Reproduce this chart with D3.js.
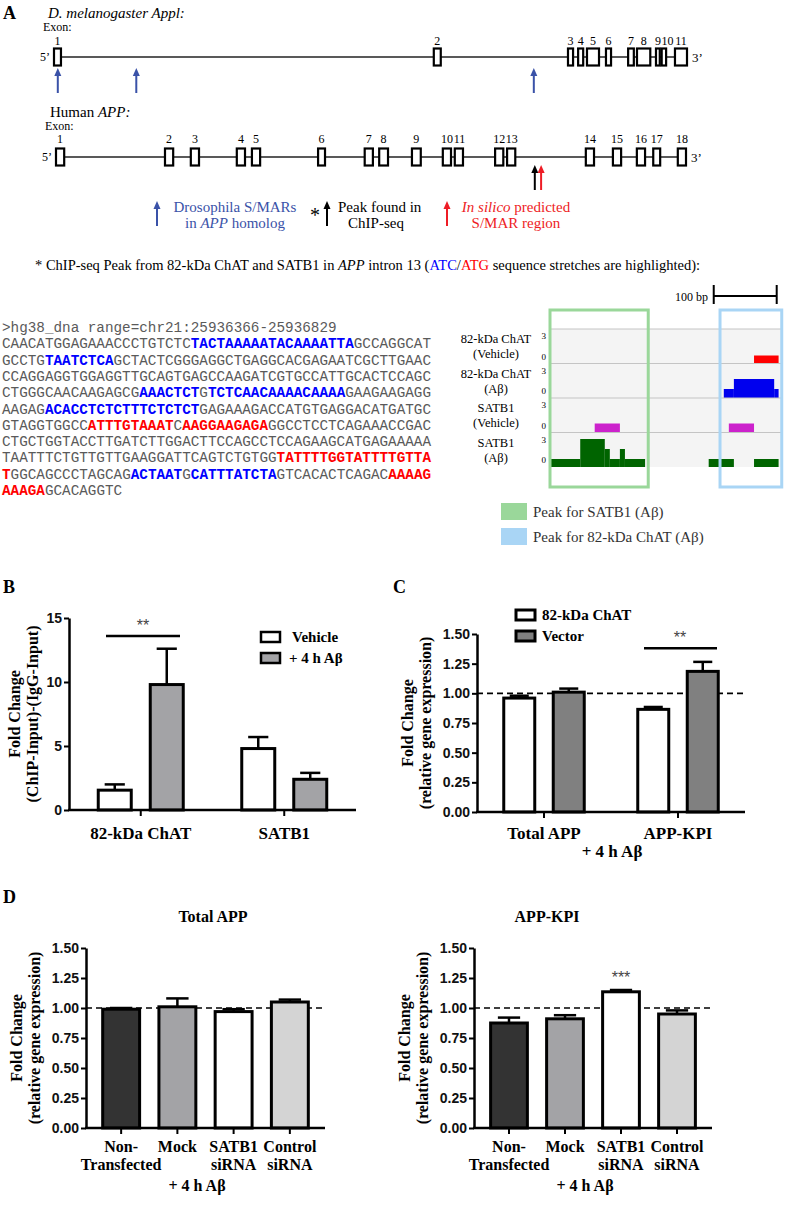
<!DOCTYPE html>
<html><head><meta charset="utf-8">
<script src="https://cdn.jsdelivr.net/npm/d3@7"></script>
<style>body{margin:0;background:#fff}svg{display:block}</style>
</head><body><script>
// ---------------- DATA ----------------
// Panel A gene models (relative position along gene, 0-100)
const drosExonLabels = ["1","2","3","4","5","6","7","8","9","10","11"];
const drosExonStart  = [0, 60.0, 81.2, 82.8, 84.2, 87.2, 90.7, 92.1, 95.1, 96.0, 98.1];
const drosExonEnd    = [1.1, 61.1, 82.0, 83.6, 86.1, 88.0, 91.6, 94.2, 95.7, 96.7, 100];
const drosMarArrows  = [0.6, 13.0, 75.8];
const humanExonLabels = ["1","2","3","4","5","6","7","8","9","10","11","12","13","14","15","16","17","18"];
const humanExonStart  = [0, 17.3, 21.4, 28.7, 31.1, 41.6, 49.0, 51.3, 56.5, 61.4, 63.3, 69.7, 71.6, 84.1, 88.4, 92.2, 94.8, 98.7];
const humanExonEnd    = [1.3, 18.6, 22.7, 30.0, 32.4, 42.7, 50.3, 52.7, 57.9, 62.7, 64.6, 71.0, 72.9, 85.4, 89.7, 93.5, 95.9, 100];
const chipSeqPeakPos  = 76.0;
const inSilicoPos     = 77.0;

// DNA sequence (n = plain, b = ATC stretch, r = ATG stretch)
const seqHeader = ">hg38_dna range=chr21:25936366-25936829";
const seqRows = [
 [["n","CAACATGGAGAAACCCTGTCTC"],["b","TACTAAAAATACAAAATTA"],["n","GCCAGGCAT"]],
 [["n","GCCTG"],["b","TAATCTCA"],["n","GCTACTCGGGAGGCTGAGGCACGAGAATCGCTTGAAC"]],
 [["n","CCAGGAGGTGGAGGTTGCAGTGAGCCAAGATCGTGCCATTGCACTCCAGC"]],
 [["n","CTGGGCAACAAGAGCG"],["b","AAACTCT"],["n","G"],["b","TCTCAACAAAACAAAA"],["n","GAAGAAGAGG"]],
 [["n","AAGAG"],["b","ACACCTCTCTTTCTCTCT"],["n","GAGAAAGACCATGTGAGGACATGATGC"]],
 [["n","GTAGGTGGCC"],["r","ATTTGTAAAT"],["n","C"],["r","AAGGAAGAGA"],["n","GGCCTCCTCAGAAACCGAC"]],
 [["n","CTGCTGGTACCTTGATCTTGGACTTCCAGCCTCCAGAAGCATGAGAAAAA"]],
 [["n","TAATTTCTGTTGTTGAAGGATTCAGTCTGTGG"],["r","TATTTTGGTATTTTGTTA"]],
 [["r","T"],["n","GGCAGCCCTAGCAG"],["b","ACTAAT"],["n","G"],["b","CATTTATCTA"],["n","GTCACACTCAGAC"],["r","AAAAG"]],
 [["r","AAAGA"],["n","GCACAGGTC"]]
];

// ChIP-seq tracks (bp offsets, signal 0-3)
const trackNames = [["82-kDa ChAT","(Vehicle)"],["82-kDa ChAT","(Aβ)"],["SATB1","(Vehicle)"],["SATB1","(Aβ)"]];
const trackColors = ["#ff0000","#0000ee","#cc22cc","#006400"];
const trackSegments = [
  [[324,363,0.8]],
  [[276,292,0.9],[292,356,1.9],[356,363,0.9]],
  [[71,111,0.9],[284,324,0.9]],
  [[0,48,0.8],[48,87,2.8],[87,95,1.8],[95,111,0.8],[111,119,1.8],[119,151,0.8],[252,292,0.8],[324,363,0.8]]
];
const satb1PeakBp = [0, 156];
const chatPeakBp  = [270, 368];
const peakLegend  = ["Peak for SATB1 (Aβ)", "Peak for 82-kDa ChAT (Aβ)"];

// Panel B
const bCats = ["82-kDa ChAT","SATB1"];
const bSeries = ["Vehicle","+ 4 h Aβ"];
const bVehicle = [1.55, 4.8], bVehicleErr = [2.0, 5.7];
const bAbeta   = [9.8, 2.4],  bAbetaErr   = [12.6, 2.9];
const bTicks = [0,5,10,15];

// Panel C
const cCats = ["Total APP","APP-KPI"];
const cSeries = ["82-kDa ChAT","Vector"];
const cChat   = [0.96, 0.865], cChatErr   = [0.98, 0.885];
const cVector = [1.01, 1.185], cVectorErr = [1.04, 1.265];
const relTicks = [0,0.25,0.5,0.75,1.0,1.25,1.5];

// Panel D
const dCats = [["Non-","Transfected"],["Mock"],["SATB1","siRNA"],["Control","siRNA"]];
const dTotal = [0.99, 1.01, 0.97, 1.05], dTotalErr = [1.0, 1.08, 0.99, 1.07];
const dKpi   = [0.875, 0.91, 1.135, 0.95], dKpiErr = [0.92, 0.94, 1.15, 0.98];
const dFills = ["#333333","#a3a3a6","#ffffff","#d4d4d4"];

// ---------------- DRAW ----------------
const W=787,H=1209;
const SERIF="'Liberation Serif','Times New Roman',serif";
const SANS="'Liberation Sans',Arial,sans-serif";
const MONO="'Liberation Mono','Courier New',monospace";
const svg=d3.select("body").append("svg").attr("width",W).attr("height",H);
svg.append("rect").attr("width",W).attr("height",H).attr("fill","#fff");

function T(x,y,s,o={}){
  const t=svg.append("text").attr("x",x).attr("y",y).text(s)
    .attr("font-family",o.ff||SERIF).attr("font-size",o.fs||14)
    .attr("fill",o.fill||"#000").attr("text-anchor",o.anchor||"start");
  if(o.bold) t.attr("font-weight","bold");
  if(o.italic) t.attr("font-style","italic");
  if(o.rotate!=null) t.attr("transform",`rotate(${o.rotate},${x},${y})`);
  return t;
}
function arrow(x,yb,yt,color){
  svg.append("line").attr("x1",x).attr("x2",x).attr("y1",yb).attr("y2",yt+6)
    .attr("stroke",color).attr("stroke-width",2);
  svg.append("path").attr("d",`M${x-3.5},${yt+8}L${x},${yt}L${x+3.5},${yt+8}Z`).attr("fill",color);
}

// Panel letters
T(3,19,"A",{fs:18,bold:true});
T(3,593,"B",{fs:18,bold:true});
T(393,593,"C",{fs:18,bold:true});
T(3,903,"D",{fs:18,bold:true});

// Gene models
function gene(y, starts, ends, labels, xr, labY){
  const x=d3.scaleLinear().domain([0,100]).range(xr);
  svg.append("line").attr("x1",x(0)).attr("x2",x(100)).attr("y1",y).attr("y2",y)
    .attr("stroke","#222").attr("stroke-width",1.3);
  // label placement with simple collision avoidance
  const fs=12, cw=fs*0.5;
  let prevRight=-1e9;
  starts.forEach((s,i)=>{
    svg.append("rect").attr("x",x(s)).attr("y",y-8.5).attr("width",x(ends[i])-x(s)).attr("height",17)
      .attr("fill","#fff").attr("stroke","#000").attr("stroke-width",2.2);
    const w=labels[i].length*cw;
    let cx=(x(s)+x(ends[i]))/2;
    if(cx-w/2<prevRight+0.5) cx=prevRight+0.5+w/2;
    prevRight=cx+w/2;
    T(cx,labY,labels[i],{fs,anchor:"middle"});
  });
  T(x(0)-4,y+4,"5’",{fs:12,anchor:"end"});
  T(x(100)+5,y+5,"3’",{fs:13});
  return x;
}
T(48,18,"D. melanogaster Appl:",{fs:15,italic:true});
T(43,31,"Exon:",{fs:12});
const xd=gene(57,drosExonStart,drosExonEnd,drosExonLabels,[54,687],45);
drosMarArrows.forEach(p=>arrow(xd(p),93,68,"#3a52a8"));

T(50,117,"Human ",{fs:15}).append("tspan").attr("font-style","italic").text("APP:");
T(45,130,"Exon:",{fs:12});
const xh=gene(157,humanExonStart,humanExonEnd,humanExonLabels,[56,686],143);
arrow(xh(chipSeqPeakPos),190,165,"#000");
arrow(xh(inSilicoPos),190,165,"#ee1c25");

// legend of arrows
arrow(157,226,201,"#3a52a8");
T(235,212,"Drosophila S/MARs",{fs:15,anchor:"middle",fill:"#3a52a8"});
const l2=T(235,228,"in ",{fs:15,anchor:"middle",fill:"#3a52a8"});
l2.append("tspan").attr("font-style","italic").text("APP");
l2.append("tspan").text(" homolog");
T(315,222,"*",{fs:20,anchor:"middle"});
arrow(327,226,201,"#000");
T(338,212,"Peak found in",{fs:15});
T(376,228,"ChIP-seq",{fs:15,anchor:"middle"});
arrow(447,226,201,"#ee1c25");
const l3=T(516,212,"",{fs:15,anchor:"middle",fill:"#ee1c25"});
l3.append("tspan").attr("font-style","italic").text("In silico");
l3.append("tspan").text(" predicted");
T(516,228,"S/MAR region",{fs:15,anchor:"middle",fill:"#ee1c25"});

// sentence
const sn=T(35,270,"* ChIP-seq Peak from 82-kDa ChAT and SATB1 in ",{fs:14.5});
sn.append("tspan").attr("font-style","italic").text("APP");
sn.append("tspan").text(" intron 13 (");
sn.append("tspan").attr("fill","#0000ff").text("ATC");
sn.append("tspan").text("/");
sn.append("tspan").attr("fill","#ff0000").text("ATG");
sn.append("tspan").text(" sequence stretches are highlighted):");

// sequence
const seqY=d3.scaleLinear().domain([0,10]).range([332,495]);
T(2,seqY(0),seqHeader,{ff:MONO,fs:14.3,fill:"#5a5a5a"}).attr("xml:space","preserve");
seqRows.forEach((row,i)=>{
  const t=T(2,seqY(i+1),"",{ff:MONO,fs:14.3,fill:"#5a5a5a"});
  row.forEach(([k,s])=>{
    const sp=t.append("tspan").text(s);
    if(k==="b") sp.attr("fill","#0000ff").attr("font-weight","bold");
    if(k==="r") sp.attr("fill","#ff0000").attr("font-weight","bold");
  });
});

// ChIP tracks
const tx=d3.scaleLinear().domain([0,370]).range([550,783]);
const trackTop=[329,363.5,398,432.5], trackH=34.5;
svg.append("rect").attr("x",tx(0)).attr("y",329).attr("width",tx(370)-tx(0)).attr("height",trackH*4)
  .attr("fill","#f4f4f4");
trackTop.forEach((t0,i)=>{
  svg.append("line").attr("x1",tx(0)).attr("x2",tx(370)).attr("y1",t0).attr("y2",t0)
    .attr("stroke","#c4c4c4").attr("stroke-width",1);
  const yb=t0+trackH;
  const ty=d3.scaleLinear().domain([0,3]).range([yb,yb-30]);
  T(546,t0+10,"3",{fs:9,anchor:"end"});
  T(546,yb-4,"0",{fs:9,anchor:"end"});
  T(496,t0+14,trackNames[i][0],{fs:12.5,anchor:"middle"});
  T(496,t0+29,trackNames[i][1],{fs:12.5,anchor:"middle"});
  trackSegments[i].forEach(([a,b,v])=>{
    svg.append("rect").attr("x",tx(a)).attr("y",ty(v)).attr("width",tx(b)-tx(a)).attr("height",ty(0)-ty(v))
      .attr("fill",trackColors[i]);
  });
});
// peak boxes
svg.append("rect").attr("x",tx(satb1PeakBp[0])).attr("y",310).attr("width",tx(satb1PeakBp[1])-tx(satb1PeakBp[0]))
  .attr("height",177).attr("fill","none").attr("stroke","#9ad79a").attr("stroke-width",3);
svg.append("rect").attr("x",tx(chatPeakBp[0])).attr("y",310).attr("width",tx(chatPeakBp[1])-tx(chatPeakBp[0]))
  .attr("height",177).attr("fill","none").attr("stroke","#a9d5f5").attr("stroke-width",3);
// scale bar
const sb0=tx(260), sb1=tx(360);
svg.append("line").attr("x1",sb0).attr("x2",sb1).attr("y1",296).attr("y2",296).attr("stroke","#000").attr("stroke-width",2);
[sb0,sb1].forEach(x=>svg.append("line").attr("x1",x).attr("x2",x).attr("y1",285).attr("y2",304).attr("stroke","#000").attr("stroke-width",2));
T(708,301,"100 bp",{fs:12,anchor:"end"});
// peak legend
["#9ad79a","#a9d5f5"].forEach((c,i)=>{
  svg.append("rect").attr("x",501).attr("y",503+i*25).attr("width",26).attr("height",17).attr("fill",c);
  T(533,517+i*25,peakLegend[i],{fs:15,fill:"#333"});
});

// ---------- bar charts ----------
function barChart(c){
  const y=d3.scaleLinear().domain([0,c.ymax]).range([c.yb,c.yt]);
  const x0=d3.scaleBand().domain(d3.range(c.cats.length)).range([c.xa,c.xb]).paddingInner(c.pi).paddingOuter(c.po);
  const ns=c.values.length;
  const gw=c.groupW||x0.bandwidth();
  const x1=d3.scaleBand().domain(d3.range(ns)).range([(x0.bandwidth()-gw)/2,(x0.bandwidth()+gw)/2]).paddingInner(c.spi||0);
  const g=svg.append("g");
  if(c.ref!=null) g.append("line").attr("x1",c.xa).attr("x2",c.xb).attr("y1",y(c.ref)).attr("y2",y(c.ref))
    .attr("stroke","#000").attr("stroke-width",1.6).attr("stroke-dasharray","6,4");
  c.values.forEach((vals,s)=>vals.forEach((v,i)=>{
    const bw=x1.bandwidth(), bx=x0(i)+x1(s), cx=bx+bw/2;
    const fill=c.fillPerCat?c.fills[i]:c.fills[s];
    const e=c.errs[s][i];
    g.append("line").attr("x1",cx).attr("x2",cx).attr("y1",y(v)).attr("y2",y(e)).attr("stroke","#000").attr("stroke-width",2.5);
    g.append("line").attr("x1",cx-bw*0.28).attr("x2",cx+bw*0.28).attr("y1",y(e)).attr("y2",y(e)).attr("stroke","#000").attr("stroke-width",2.5);
    g.append("rect").attr("x",bx+1.5).attr("y",y(v)).attr("width",bw-3).attr("height",y(0)-y(v))
      .attr("fill",fill).attr("stroke","#000").attr("stroke-width",3);
  }));
  // y axis
  const ax=svg.append("g").attr("transform",`translate(${c.xa},0)`)
    .call(d3.axisLeft(y).tickValues(c.ticks).tickFormat(c.fmt).tickSize(5).tickSizeOuter(0).tickPadding(2));
  ax.select(".domain").attr("stroke","#000").attr("stroke-width",2.5);
  ax.selectAll(".tick line").attr("stroke","#000").attr("stroke-width",2);
  ax.selectAll(".tick text").attr("font-family",SANS).attr("font-weight","bold").attr("font-size",14).attr("fill","#111");
  // x baseline
  svg.append("line").attr("x1",c.xa-1).attr("x2",c.xb).attr("y1",y(0)).attr("y2",y(0)).attr("stroke","#000").attr("stroke-width",2.5);
  c.cats.forEach((cat,i)=>{
    const cx=x0(i)+x0.bandwidth()/2;
    svg.append("line").attr("x1",cx).attr("x2",cx).attr("y1",y(0)).attr("y2",y(0)+6).attr("stroke","#000").attr("stroke-width",2);
    const lines=Array.isArray(cat)?cat:[cat];
    lines.forEach((l,k)=>T(cx,y(0)+c.labDy+k*18,l,{fs:c.labFs||17,bold:true,anchor:"middle"}));
  });
  // y label
  T(c.ylx[0],(c.yb+c.yt)/2,c.ylab[0],{fs:16,bold:true,anchor:"middle",rotate:-90});
  T(c.ylx[1],(c.yb+c.yt)/2,c.ylab[1],{fs:16,bold:true,anchor:"middle",rotate:-90});
  return {y,x0};
}

// B
const B=barChart({ymax:15,yb:810,yt:618,xa:69,xb:356,pi:0,po:0,groupW:88,spi:16/52,
  cats:bCats,values:[bVehicle,bAbeta],errs:[bVehicleErr,bAbetaErr],fills:["#ffffff","#a3a3a6"],
  ticks:bTicks,fmt:d3.format("d"),labDy:29,ylab:["Fold Change","(ChIP-Input)-(IgG-Input)"],ylx:[20,38]});
svg.append("line").attr("x1",106).attr("x2",180).attr("y1",B.y(13.6)).attr("y2",B.y(13.6)).attr("stroke","#000").attr("stroke-width",2.5);
T(143,B.y(13.6)-5,"**",{ff:SANS,fs:16,anchor:"middle",fill:"#444"});
bSeries.forEach((s,i)=>{
  svg.append("rect").attr("x",261).attr("y",632+i*21).attr("width",19).attr("height",10)
    .attr("fill",i?"#a3a3a6":"#fff").attr("stroke","#000").attr("stroke-width",2.5);
  T(i?289:292,642+i*21,s,{fs:15,bold:true});
});

// C
const C=barChart({ymax:1.5,yb:812,yt:634,xa:477,xb:745,pi:0,po:0,groupW:83.5,spi:0.313,
  cats:cCats,values:[cChat,cVector],errs:[cChatErr,cVectorErr],fills:["#ffffff","#808080"],ref:1.0,
  ticks:relTicks,fmt:d3.format(".2f"),labDy:27,ylab:["Fold Change","(relative gene expression)"],ylx:[413,431]});
T(612,857,"+ 4 h Aβ",{fs:17,bold:true,anchor:"middle"});
svg.append("line").attr("x1",644).attr("x2",717).attr("y1",C.y(1.38)).attr("y2",C.y(1.38)).attr("stroke","#000").attr("stroke-width",2.5);
T(680,C.y(1.38)-5,"**",{ff:SANS,fs:16,anchor:"middle",fill:"#444"});
cSeries.forEach((s,i)=>{
  svg.append("rect").attr("x",516).attr("y",610+i*21).attr("width",19).attr("height",10)
    .attr("fill",i?"#808080":"#fff").attr("stroke","#000").attr("stroke-width",3);
  T(542,620+i*21,s,{fs:15,bold:true});
});

// D left
T(213,922,"Total APP",{fs:16,bold:true,anchor:"middle"});
const DL=barChart({ymax:1.5,yb:1128,yt:948,xa:86,xb:325,pi:0.29,po:0.27,
  cats:dCats,values:[dTotal],errs:[dTotalErr],fills:dFills,fillPerCat:true,ref:1.0,
  ticks:relTicks,fmt:d3.format(".2f"),labDy:24,labFs:16,ylab:["Fold Change","(relative gene expression)"],ylx:[22,40]});
T(197,1191,"+ 4 h Aβ",{fs:16,bold:true,anchor:"middle"});

// D right
T(547,922,"APP-KPI",{fs:16,bold:true,anchor:"middle"});
const DR=barChart({ymax:1.5,yb:1128,yt:948,xa:474,xb:712,pi:0.29,po:0.27,
  cats:dCats,values:[dKpi],errs:[dKpiErr],fills:dFills,fillPerCat:true,ref:1.0,
  ticks:relTicks,fmt:d3.format(".2f"),labDy:24,labFs:16,ylab:["Fold Change","(relative gene expression)"],ylx:[410,428]});
T(585,1191,"+ 4 h Aβ",{fs:16,bold:true,anchor:"middle"});
T(DR.x0(2)+DR.x0.bandwidth()/2,DR.y(1.21),"***",{ff:SANS,fs:16,anchor:"middle",fill:"#444"});
</script></body></html>
